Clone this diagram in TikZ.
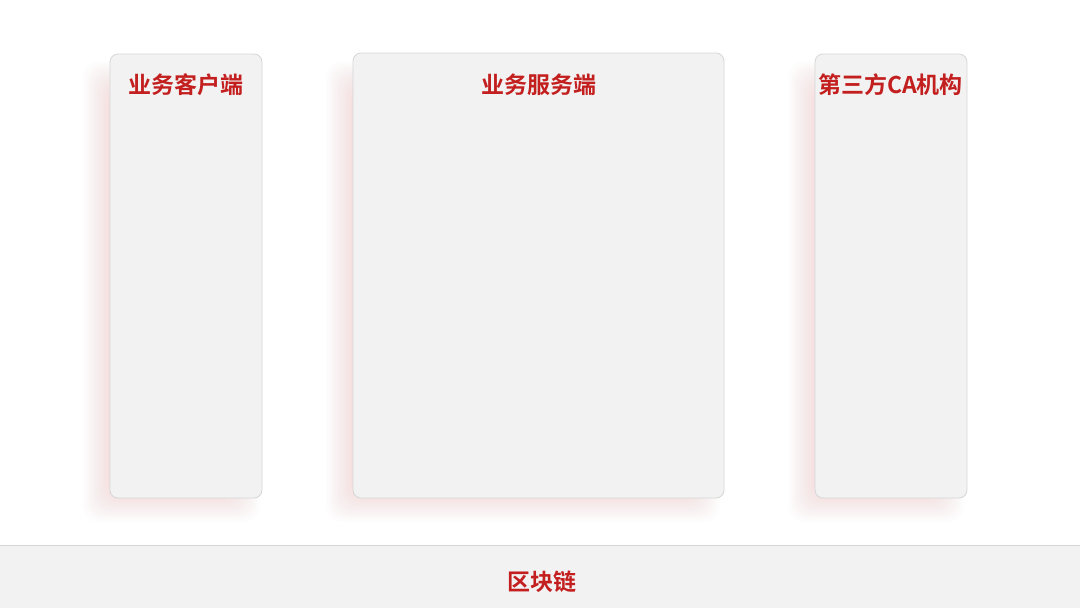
\documentclass[tikz,border=0pt]{standalone}
\usepackage{fontspec}
\newfontfamily\cjk{Noto Sans CJK SC}[BoldFont={Noto Sans CJK SC Bold}]
\definecolor{boxfill}{HTML}{F2F2F2}
\definecolor{boxline}{HTML}{D6D6D6}
\definecolor{titlered}{HTML}{C31F1F}
\definecolor{shadowpink}{HTML}{F6B0B0}
\tikzset{
  panel/.style={draw=boxline, fill=boxfill, line width=0.8pt, rounded corners=8pt},
  paneltitle/.style={text=titlered, font=\cjk\bfseries\fontsize{23}{27}\selectfont, inner sep=0pt},
}
\newcommand{\softshadow}[4]{% x1 y1 x2 y2
  \foreach \i in {0,...,15}{
    \fill[shadowpink, opacity=0.022, rounded corners=16pt]
      ({#1-14+\i*1.75},{#2-14+\i*1.75}) rectangle ({#3+14-\i*1.75},{#4+14-\i*1.75});
  }
}
\begin{document}
\begin{tikzpicture}[x=1pt,y=-1pt]
\useasboundingbox (0,0) rectangle (1080,608);
\fill[white] (0,0) rectangle (1080,608);
% shadows
\softshadow{97}{75}{246}{508}
\softshadow{340}{75}{706}{508}
\softshadow{802}{75}{950}{508}
% panels
\draw[panel] (110,54) rectangle (262,498);
\draw[panel] (353,53) rectangle (724,498);
\draw[panel] (815,54) rectangle (967,498);
\node[paneltitle] (client) at (186,85) {业务客户端};
\node[paneltitle] (server) at (538.5,85) {业务服务端};
\node[paneltitle] (ca) at (890.5,85) {第三方CA机构};
% blockchain bar
\fill[boxfill] (0,545) rectangle (1080,608);
\draw[boxline, line width=0.8pt] (0,545) -- (1080,545);
\node[paneltitle] (chain) at (542,582) {区块链};
\end{tikzpicture}
\end{document}
